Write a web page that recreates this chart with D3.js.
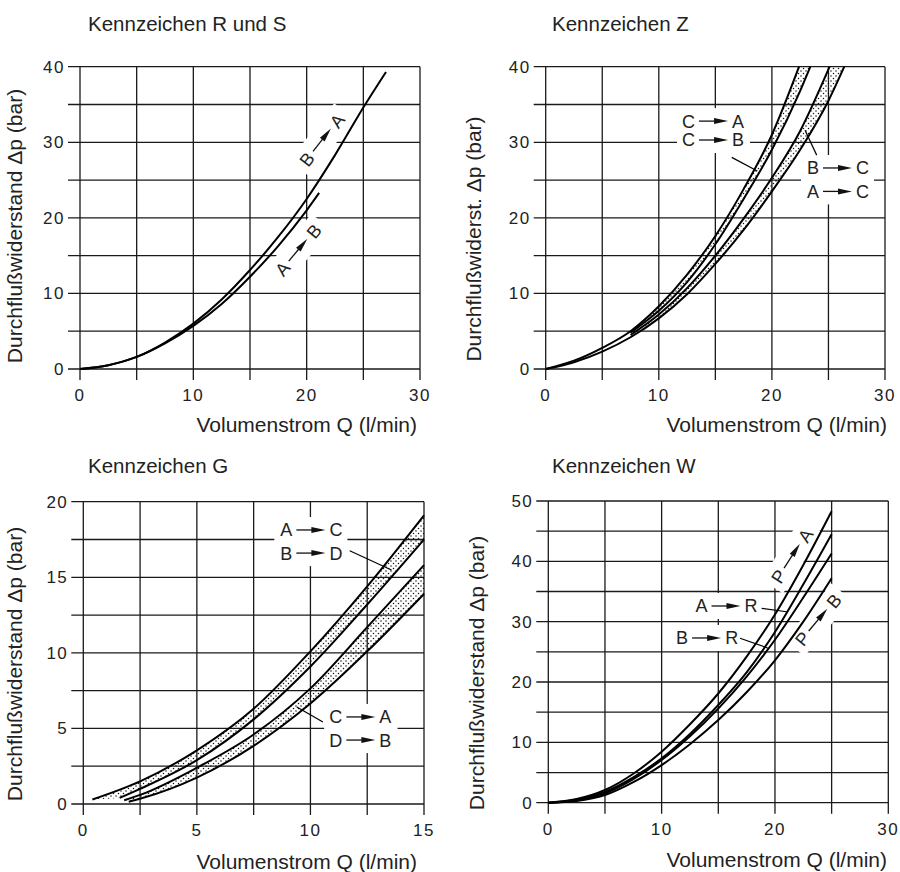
<!DOCTYPE html>
<html><head><meta charset="utf-8">
<script src="https://cdn.jsdelivr.net/npm/d3@7"></script>
<style>
body{margin:0;background:#fff}
svg{display:block}
text{font-family:"Liberation Sans",Arial,Helvetica,sans-serif;fill:#222}
</style>
</head><body>
<svg id="chart" width="900" height="872"></svg>
<script>
// ---------- DATA ----------
// Kennzeichen R und S
const rsQ_BA = [0, 2.5, 5, 7.5, 10, 12.5, 15, 17.5, 20, 22.5, 25, 27];
const rsP_BA = [0, 0.5, 1.6, 3.5, 6.0, 9.2, 13.1, 17.5, 22.5, 28.3, 34.6, 39.3];
const rsQ_AB = [0, 2.5, 5, 7.5, 10, 12.5, 15, 17.5, 20, 21.1];
const rsP_AB = [0, 0.5, 1.6, 3.4, 5.7, 8.6, 12.2, 16.3, 21.0, 23.3];
// Kennzeichen Z
const zQ_CA = [0, 2.5, 5, 7.5, 10, 12.5, 15, 17.5, 20, 22.4];
const zP_CA = [0, 1.1, 2.8, 5.0, 8.3, 12.5, 17.6, 23.8, 31.0, 40];
const zQ_CB = [7.5, 10, 12.5, 15, 17.5, 20, 22.5, 23.4];
const zP_CB = [4.8, 7.7, 11.5, 16.5, 22.5, 29.0, 36.8, 40];
const zQ_BC = [7.5, 10, 12.5, 15, 17.5, 20, 22.5, 25.1];
const zP_BC = [4.5, 7.2, 10.7, 15.0, 19.9, 25.3, 31.5, 40];
const zQ_AC = [0, 2.5, 5, 7.5, 10, 12.5, 15, 17.5, 20, 22.5, 25, 26.4];
const zP_AC = [0, 0.9, 2.3, 4.2, 6.7, 9.9, 13.9, 18.4, 23.5, 29.0, 35.5, 40];
// Kennzeichen G
const gQ_AC = [0.4, 2.5, 5, 7.5, 10, 12.5, 15];
const gP_AC = [0.3, 1.5, 3.55, 6.3, 10.1, 14.4, 19.1];
const gQ_BD = [1.6, 2.5, 5, 7.5, 10, 12.5, 15];
const gP_BD = [0.4, 1.0, 2.9, 5.6, 9.1, 13.2, 17.5];
const gQ_CA = [1.8, 2.5, 5, 7.5, 10, 12.5, 15];
const gP_CA = [0.25, 0.6, 2.4, 4.6, 7.65, 11.7, 15.8];
const gQ_DB = [2.0, 2.5, 5, 7.5, 10, 12.5, 15];
const gP_DB = [0.15, 0.35, 1.75, 3.85, 6.65, 10.1, 13.9];
// Kennzeichen W
const wQ = [0, 2.5, 5, 7.5, 10, 12.5, 15, 17.5, 20, 22.5, 25];
const wP_PA = [0, 0.6, 2.1, 4.8, 8.45, 13.0, 18.1, 24.2, 31.2, 39.4, 48.3];
const wP_AR = [0, 0.5, 1.8, 4.2, 7.35, 11.4, 16.2, 21.6, 28.3, 36.2, 44.5];
const wP_BR = [0, 0.4, 1.55, 3.9, 7.07, 11.0, 15.6, 20.9, 27.0, 34.0, 41.3];
const wP_PB = [0, 0.3, 1.27, 3.4, 6.24, 9.7, 13.7, 18.3, 23.6, 30.0, 37.2];

// tick labels
const xTicks30 = [0, 10, 20, 30];
const yTicks40 = [0, 10, 20, 30, 40];
const xTicks15 = [0, 5, 10, 15];
const yTicks20 = [0, 5, 10, 15, 20];
const yTicks50 = [0, 10, 20, 30, 40, 50];

const titles = ["Kennzeichen R und S", "Kennzeichen Z", "Kennzeichen G", "Kennzeichen W"];
const xLabel = "Volumenstrom Q (l/min)";
const yLabels = ["Durchflußwiderstand Δp (bar)", "Durchflußwiderst. Δp (bar)",
                 "Durchflußwiderstand Δp (bar)", "Durchflußwiderstand Δp (bar)"];

const pts = (qs, ps) => qs.map((q, i) => [q, ps[i]]);

// ---------- LAYOUT ----------
const panels = [
  { left: 80, right: 420, top: 66.7, bottom: 369, xMax: 30, yMax: 40, xStep: 5, yStep: 5,
    xTicks: xTicks30, yTicks: yTicks40, title: titles[0], titleX: 88, titleY: 31,
    yLab: yLabels[0], yLabX: 22, yLabY: 226, xLabX: 417, xLabY: 432,
    curves: [pts(rsQ_BA, rsP_BA), pts(rsQ_AB, rsP_AB)], bands: [],
    labels: [ { q: 21.35, p: 30.3, a: "B", b: "A", ang: -52 },
              { q: 19.24, p: 15.75, a: "A", b: "B", ang: -50 } ],
    leaders: [] },
  { left: 545.7, right: 885, top: 66.7, bottom: 369, xMax: 30, yMax: 40, xStep: 5, yStep: 5,
    xTicks: xTicks30, yTicks: yTicks40, title: titles[1], titleX: 552, titleY: 31,
    yLab: yLabels[1], yLabX: 481, yLabY: 239, xLabX: 887, xLabY: 432,
    curves: [pts(zQ_CA, zP_CA), pts(zQ_CB, zP_CB), pts(zQ_BC, zP_BC), pts(zQ_AC, zP_AC)],
    bands: [ { up: 0, lo: 1, from: 7.5 }, { up: 2, lo: 3, from: 7.5 } ],
    labels: [ { q: 14.84, p: 32.8, a: "C", b: "A", ang: 0 },
              { q: 14.84, p: 30.3, a: "C", b: "B", ang: 0 },
              { q: 25.8, p: 26.6, a: "B", b: "C", ang: 0 },
              { q: 25.8, p: 23.5, a: "A", b: "C", ang: 0 } ],
    leaders: [ [[16.45, 28.0], [18.71, 26.2]], [[23.96, 28.3], [22.93, 31.6]] ] },
  { left: 83.3, right: 424, top: 501.7, bottom: 804, xMax: 15, yMax: 20, xStep: 2.5, yStep: 2.5,
    xTicks: xTicks15, yTicks: yTicks20, title: titles[2], titleX: 88, titleY: 473,
    yLab: yLabels[2], yLabX: 22, yLabY: 664, xLabX: 417, xLabY: 869,
    curves: [pts(gQ_AC, gP_AC), pts(gQ_BD, gP_BD), pts(gQ_CA, gP_CA), pts(gQ_DB, gP_DB)],
    bands: [ { up: 0, lo: 1, from: 0 }, { up: 2, lo: 3, from: 0 } ],
    labels: [ { q: 10.02, p: 18.13, a: "A", b: "C", ang: 0 },
              { q: 10.02, p: 16.6, a: "B", b: "D", ang: 0 },
              { q: 12.22, p: 5.76, a: "C", b: "A", ang: 0 },
              { q: 12.22, p: 4.23, a: "D", b: "B", ang: 0 } ],
    leaders: [ [[11.73, 16.76], [13.57, 15.48]], [[10.55, 5.43], [9.4, 6.42]] ] },
  { left: 548.3, right: 888.3, top: 501, bottom: 802.7, xMax: 30, yMax: 50, xStep: 5, yStep: 5,
    xTicks: xTicks30, yTicks: yTicks50, title: titles[3], titleX: 552, titleY: 473,
    yLab: yLabels[3], yLabX: 484, yLabY: 673, xLabX: 887, xLabY: 867,
    curves: [pts(wQ, wP_PA), pts(wQ, wP_AR), pts(wQ, wP_BR), pts(wQ, wP_PB)], bands: [],
    labels: [ { q: 21.5, p: 40.9, a: "P", b: "A", ang: -57 },
              { q: 23.8, p: 30.3, a: "P", b: "B", ang: -50 },
              { q: 15.68, p: 32.6, a: "A", b: "R", ang: 0 },
              { q: 13.97, p: 27.3, a: "B", b: "R", ang: 0 } ],
    leaders: [ [[18.83, 32.2], [21.04, 31.65]], [[16.92, 27.25], [19.41, 25.6]] ] }
];

// ---------- DRAW ----------
const svg = d3.select("#chart");
const defs = svg.append("defs");
const pat = defs.append("pattern").attr("id", "dots").attr("patternUnits", "userSpaceOnUse")
  .attr("width", 5).attr("height", 5);
pat.append("circle").attr("cx", 1).attr("cy", 1).attr("r", 0.75).attr("fill", "#111");
pat.append("circle").attr("cx", 3.5).attr("cy", 3.5).attr("r", 0.75).attr("fill", "#111");

const GRID = "#1a1a1a", INK = "#000";
const HALF = 14.5;

function sample(node, n) {
  const L = node.getTotalLength();
  return d3.range(n + 1).map(i => { const p = node.getPointAtLength(L * i / n); return [p.x, p.y]; });
}

panels.forEach(P => {
  const x = d3.scaleLinear().domain([0, P.xMax]).range([P.left, P.right]);
  const y = d3.scaleLinear().domain([0, P.yMax]).range([P.bottom, P.top]);
  const g = svg.append("g");
  const gGrid = g.append("g"), gMask = g.append("g"), gBand = g.append("g"),
        gCurve = g.append("g"), gText = g.append("g");

  // grid + tick extensions
  const xs = d3.range(0, P.xMax + 1e-9, P.xStep);
  const ys = d3.range(0, P.yMax + 1e-9, P.yStep);
  gGrid.selectAll(".vg").data(xs).join("line")
    .attr("x1", d => x(d)).attr("x2", d => x(d)).attr("y1", P.top).attr("y2", P.bottom + 11)
    .attr("stroke", GRID).attr("stroke-width", 1.3);
  gGrid.selectAll(".hg").data(ys).join("line")
    .attr("y1", d => y(d)).attr("y2", d => y(d)).attr("x1", P.left - 12).attr("x2", P.right)
    .attr("stroke", GRID).attr("stroke-width", 1.3);

  // tick labels
  gText.selectAll(".xt").data(P.xTicks).join("text")
    .attr("x", d => x(d)).attr("y", P.bottom + 26).attr("dy", "0.35em")
    .attr("text-anchor", "middle").attr("font-size", 17).attr("letter-spacing", 1.5)
    .attr("fill", "#333").text(d => d);
  gText.selectAll(".yt").data(P.yTicks).join("text")
    .attr("x", P.left - 15).attr("y", d => y(d)).attr("dy", "0.35em")
    .attr("text-anchor", "end").attr("font-size", 17).attr("letter-spacing", 1.5)
    .attr("fill", "#333").text(d => d);

  // titles & axis labels
  gText.append("text").attr("x", P.titleX).attr("y", P.titleY).attr("font-size", 20.5).text(P.title);
  gText.append("text").attr("x", P.xLabX).attr("y", P.xLabY).attr("text-anchor", "end")
    .attr("font-size", 21).text(xLabel);
  gText.append("text").attr("transform", `translate(${P.yLabX},${P.yLabY}) rotate(-90)`)
    .attr("text-anchor", "middle").attr("font-size", 21).text(P.yLab);

  // label masks
  P.labels.forEach(L => {
    gMask.append("rect").attr("transform", `translate(${x(L.q)},${y(L.p)}) rotate(${L.ang})`)
      .attr("x", -HALF - 22).attr("y", -13).attr("width", 2 * HALF + 44).attr("height", 26)
      .attr("fill", "#fff");
  });

  // curves
  const lineM = d3.line().x(d => x(d[0])).y(d => y(d[1])).curve(d3.curveMonotoneX);
  const nodes = P.curves.map(c =>
    gCurve.append("path").attr("d", lineM(c)).attr("fill", "none")
      .attr("stroke", INK).attr("stroke-width", 2).node());

  // dotted bands between pairs of curves
  P.bands.forEach(B => {
    const x0 = x(B.from);
    const up = sample(nodes[B.up], 300).filter(p => p[0] >= x0);
    const lo = sample(nodes[B.lo], 300).filter(p => p[0] >= x0).reverse();
    gBand.append("path").attr("d", d3.line()(up.concat(lo)) + "Z")
      .attr("fill", "url(#dots)").attr("stroke", "none");
  });

  // leader lines
  P.leaders.forEach(l => {
    gCurve.append("line").attr("x1", x(l[0][0])).attr("y1", y(l[0][1]))
      .attr("x2", x(l[1][0])).attr("y2", y(l[1][1]))
      .attr("stroke", INK).attr("stroke-width", 1.2);
  });

  // arrow labels
  P.labels.forEach(L => {
    const lg = gText.append("g").attr("transform", `translate(${x(L.q)},${y(L.p)}) rotate(${L.ang})`);
    lg.append("line").attr("x1", -HALF).attr("x2", HALF - 8).attr("y1", 0).attr("y2", 0)
      .attr("stroke", "#111").attr("stroke-width", 1.3);
    lg.append("path").attr("d", `M${HALF - 14},-3 L${HALF},0 L${HALF - 14},3 Z`).attr("fill", "#111");
    lg.append("text").attr("x", -HALF - 4).attr("y", 0).attr("dy", "0.36em")
      .attr("text-anchor", "end").attr("font-size", 18).text(L.a);
    lg.append("text").attr("x", HALF + 4).attr("y", 0).attr("dy", "0.36em")
      .attr("text-anchor", "start").attr("font-size", 18).text(L.b);
  });
});
</script>
</body></html>
